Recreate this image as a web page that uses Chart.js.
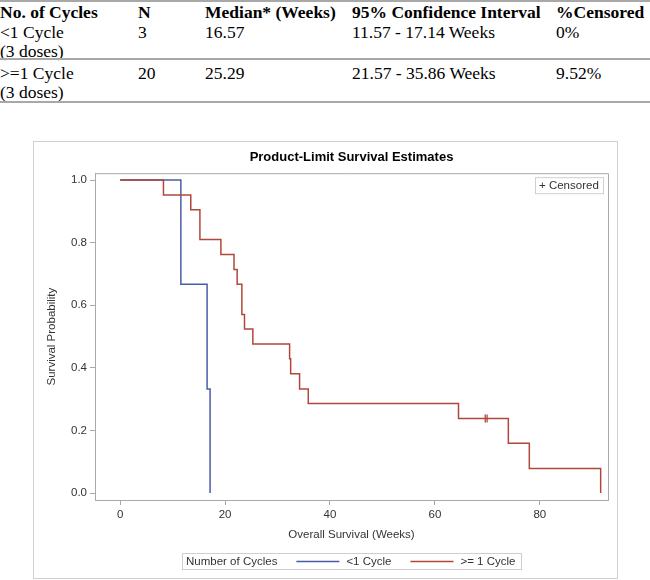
<!DOCTYPE html>
<html>
<head>
<meta charset="utf-8">
<script src="https://cdn.jsdelivr.net/npm/chart.js@4"></script>
<style>
  body { margin: 0; background: #fff; width: 650px; height: 580px; position: relative; overflow: hidden; }
  .tbl { position: absolute; left: 0; top: 0; width: 650px; font-family: "Liberation Serif", "Times New Roman", serif; font-size: 17.5px; color: #000; }
  .cell { position: absolute; line-height: 19px; white-space: nowrap; }
  .hd { font-weight: bold; }
  .rule { position: absolute; left: 0; width: 650px; height: 2px; background: #a8a8a8; }
  #box { position: absolute; left: 33px; top: 141px; width: 585px; height: 438px; box-sizing: border-box; border: 1px solid #d0d0d0; }
  #box canvas { position: absolute; left: 0; top: 0; }
</style>
</head>
<body>
<div class="tbl" id="tbl"></div>
<div id="box"><canvas id="myChart" width="583" height="436"></canvas></div>
<script>
// 表のデータ
const tableHead = ["No. of Cycles", "N", "Median* (Weeks)", "95% Confidence Interval", "%Censored"];
const tableRows = [
  ["<1 Cycle\n(3 doses)", "3", "16.57", "11.57 - 17.14 Weeks", "0%"],
  [">=1 Cycle\n(3 doses)", "20", "25.29", "21.57 - 35.86 Weeks", "9.52%"]
];

// KM曲線のデータ
const groupLabels = ["<1 Cycle", ">= 1 Cycle"];
const lowTimes = [0, 11.57, 16.57, 17.14];
const lowSurv  = [1, 0.667, 0.333, 0];
const highTimes = [0, 8.25, 13.46, 15.2, 19.2, 21.7, 22.3, 23.2, 23.7, 25.29, 32.3, 32.5, 34.2, 35.86, 64.5, 74.0, 78.0, 91.6];
const highSurv  = [1, 0.952, 0.905, 0.810, 0.762, 0.714, 0.667, 0.571, 0.524, 0.476, 0.429, 0.381, 0.333, 0.286, 0.238, 0.159, 0.079, 0];
const censorTimes = [69.6, 69.95];
const censorSurv  = [0.238, 0.238];
const xTicks = [0, 20, 40, 60, 80];
const yTicks = [0, 0.2, 0.4, 0.6, 0.8, 1.0];

// 表を作る
const colX = [0, 138, 205, 352, 556];
const tbl = document.getElementById("tbl");
function addCell(text, x, y, cls) {
  const d = document.createElement("div");
  d.className = "cell " + (cls || "");
  d.style.left = x + "px";
  d.style.top = y + "px";
  d.innerHTML = text.replace(/</g, "&lt;").replace(/>/g, "&gt;").replace("\n", "<br>");
  tbl.appendChild(d);
}
function addRule(y) {
  const r = document.createElement("div");
  r.className = "rule";
  r.style.top = y + "px";
  tbl.appendChild(r);
}
addRule(0);
tableHead.forEach(function(h, i) { addCell(h, colX[i], 3, "hd"); });
tableRows.forEach(function(row, r) {
  row.forEach(function(c, i) { addCell(c, colX[i], 23 + r * 41, ""); });
  addRule(58 + r * 43);
});

const blue = "#4a5ca8";
const red = "#b0473b";
const frameColor = "#a9a9a9";
const txt = "#333333";
const fontFam = '"Liberation Sans", Arial, sans-serif';

function toPts(xs, ys) {
  return xs.map(function(x, i) { return { x: x, y: ys[i] }; });
}

// 枠・凡例・打ち切り表示
const extras = {
  id: "extras",
  beforeDatasetsDraw(chart) {
    const ctx = chart.ctx, a = chart.chartArea;
    ctx.save();
    ctx.strokeStyle = frameColor;
    ctx.lineWidth = 1;
    ctx.beginPath();
    ctx.moveTo(a.left, a.top + 0.5);
    ctx.lineTo(a.right + 0.5, a.top + 0.5);
    ctx.lineTo(a.right + 0.5, a.bottom);
    ctx.stroke();
    ctx.restore();
  },
  afterDraw(chart) {
    const ctx = chart.ctx, a = chart.chartArea;
    ctx.save();
    ctx.font = "11.5px " + fontFam;
    ctx.textBaseline = "middle";
    // Censored box
    const cTxt = "+ Censored";
    const cw = ctx.measureText(cTxt).width + 8;
    ctx.strokeStyle = "#cfcfcf";
    ctx.strokeRect(Math.round(a.right - 5 - cw) + 0.5, a.top + 4.5, Math.round(cw), 16);
    ctx.fillStyle = txt;
    ctx.fillText(cTxt, Math.round(a.right - 5 - cw) + 4, a.top + 13);

    // bottom legend
    const sets = chart.data.datasets.filter(function(d) { return d.group; });
    const title = "Number of Cycles";
    const lineLen = 43;
    let total = 4 + ctx.measureText(title).width;
    sets.forEach(function(d) { total += 19 + lineLen + 7 + ctx.measureText(d.label).width; });
    total += 6;
    const cx = (a.left + a.right) / 2;
    const bx = Math.round(cx - total / 2);
    const by = 411;
    ctx.strokeStyle = "#cfcfcf";
    ctx.strokeRect(bx + 0.5, by + 0.5, Math.round(total), 16);
    let x = bx + 4;
    const y = by + 8.5;
    ctx.fillStyle = txt;
    ctx.fillText(title, x, y);
    x += ctx.measureText(title).width;
    sets.forEach(function(d) {
      x += 19;
      ctx.strokeStyle = d.borderColor;
      ctx.lineWidth = 1.5;
      ctx.beginPath();
      ctx.moveTo(x, y);
      ctx.lineTo(x + lineLen, y);
      ctx.stroke();
      x += lineLen + 7;
      ctx.fillStyle = txt;
      ctx.fillText(d.label, x, y);
      x += ctx.measureText(d.label).width;
    });
    ctx.restore();
  }
};

var ctx = document.getElementById("myChart").getContext("2d");
var myChart = new Chart(ctx, {
  type: "line",
  data: {
    datasets: [
      {
        label: groupLabels[0], group: true, data: toPts(lowTimes, lowSurv),
        borderColor: blue, borderWidth: 1.5, stepped: "before", pointRadius: 0, fill: false, order: 1
      },
      {
        label: groupLabels[1], group: true, data: toPts(highTimes, highSurv),
        borderColor: red, borderWidth: 1.5, stepped: "before", pointRadius: 0, fill: false, order: 0
      },
      {
        type: "scatter", label: "Censored", data: toPts(censorTimes, censorSurv),
        borderColor: red, backgroundColor: red, borderWidth: 1.3, pointStyle: "line",
        rotation: 90, pointRadius: 4, showLine: false, order: 0
      }
    ]
  },
  options: {
    responsive: false,
    animation: false,
    layout: { padding: { left: 0, right: 9, top: 0, bottom: 28 } },
    plugins: {
      legend: { display: false },
      tooltip: { enabled: false },
      title: {
        display: true, fullSize: false, text: "Product-Limit Survival Estimates",
        color: "#000", font: { family: fontFam, size: 13, weight: "bold" },
        padding: { top: 8, bottom: 7.6 }
      }
    },
    scales: {
      x: {
        type: "linear", min: -4.8, max: 93,
        afterBuildTicks: function(s) { s.ticks = xTicks.map(function(v) { return { value: v }; }); },
        afterFit: function(s) { s.height = 50; },
        grid: { drawOnChartArea: false, drawTicks: true, tickLength: 5, color: frameColor },
        border: { display: true, color: frameColor },
        ticks: { color: txt, font: { family: fontFam, size: 11.5 }, padding: 3, maxRotation: 0 },
        title: { display: true, text: "Overall Survival (Weeks)", color: txt,
                 font: { family: fontFam, size: 11.5 }, padding: { top: 0, bottom: 8 } }
      },
      y: {
        type: "linear", min: -0.022, max: 1.022,
        afterBuildTicks: function(s) { s.ticks = yTicks.map(function(v) { return { value: v }; }); },
        afterFit: function(s) { s.width = 61; },
        grid: { drawOnChartArea: false, drawTicks: true, tickLength: 5, color: frameColor },
        border: { display: true, color: frameColor },
        ticks: { color: txt, font: { family: fontFam, size: 11.5 }, padding: 3,
                 callback: function(v) { return Number(v).toFixed(1); } },
        title: { display: true, text: "Survival Probability", color: txt,
                 font: { family: fontFam, size: 11.5 }, padding: { top: 11, bottom: 0 } }
      }
    }
  },
  plugins: [extras]
});
</script>
</body>
</html>
